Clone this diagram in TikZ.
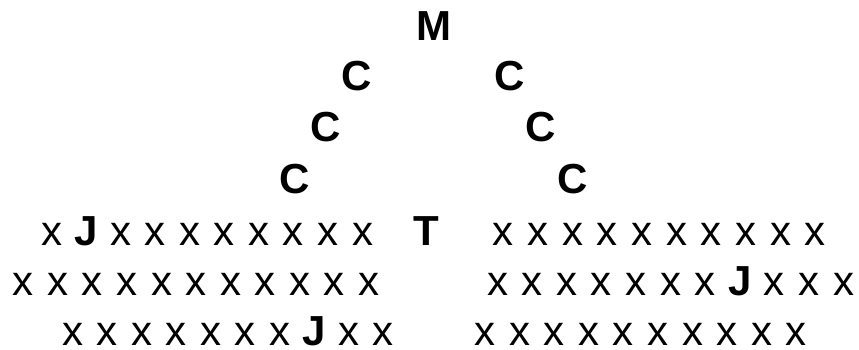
\documentclass[tikz,border=0pt]{standalone}
\usepackage{fontspec}
\setmainfont{Liberation Sans}
\begin{document}
\begin{tikzpicture}[x=1pt,y=-1pt,
  glyph/.style={inner sep=0pt, outer sep=0pt, anchor=base},
  seat/.style={glyph, font=\fontsize{42}{50}\selectfont},
  key/.style={glyph, font=\fontsize{42}{50}\selectfont\bfseries}]
\useasboundingbox (0,0) rectangle (859,349);

% apex and the two diagonal arms
\node[key] (m)  at (434.2,40)  {M};
\node[key] (l1) at (356.7,90)  {C};
\node[key] (l2) at (325.8,141.5) {C};
\node[key] (l3) at (295,193)   {C};
\node[key] (r1) at (510,90)    {C};
\node[key] (r2) at (540.8,141.5) {C};
\node[key] (r3) at (572.5,193) {C};

% centre of the first row
\node[key] (t) at (426,245) {T};

% row 1
\foreach \i in {0,2,3,4,5,6,7,8,9}
  \node[seat] (aL\i) at ({51.6+34.55*\i},245) {x};
\node[key] (jA) at (86.15,245) {J};
\foreach \i in {0,...,9}
  \node[seat] (aR\i) at ({503.3+34.65*\i},245) {x};

% row 2
\foreach \i in {0,...,10}
  \node[seat] (bL\i) at ({23.3+34.55*\i},295) {x};
\foreach \i in {0,1,2,3,4,5,6,8,9,10}
  \node[seat] (bR\i) at ({497.5+34.6*\i},295) {x};
\node[key] (jB) at (739.7,295) {J};

% row 3
\foreach \i in {0,1,2,3,4,5,6,8,9}
  \node[seat] (cL\i) at ({72.5+34.5*\i},345) {x};
\node[key] (jC) at (314,345) {J};
\foreach \i in {0,...,9}
  \node[seat] (cR\i) at ({485+34.6*\i},345) {x};
\end{tikzpicture}
\end{document}
